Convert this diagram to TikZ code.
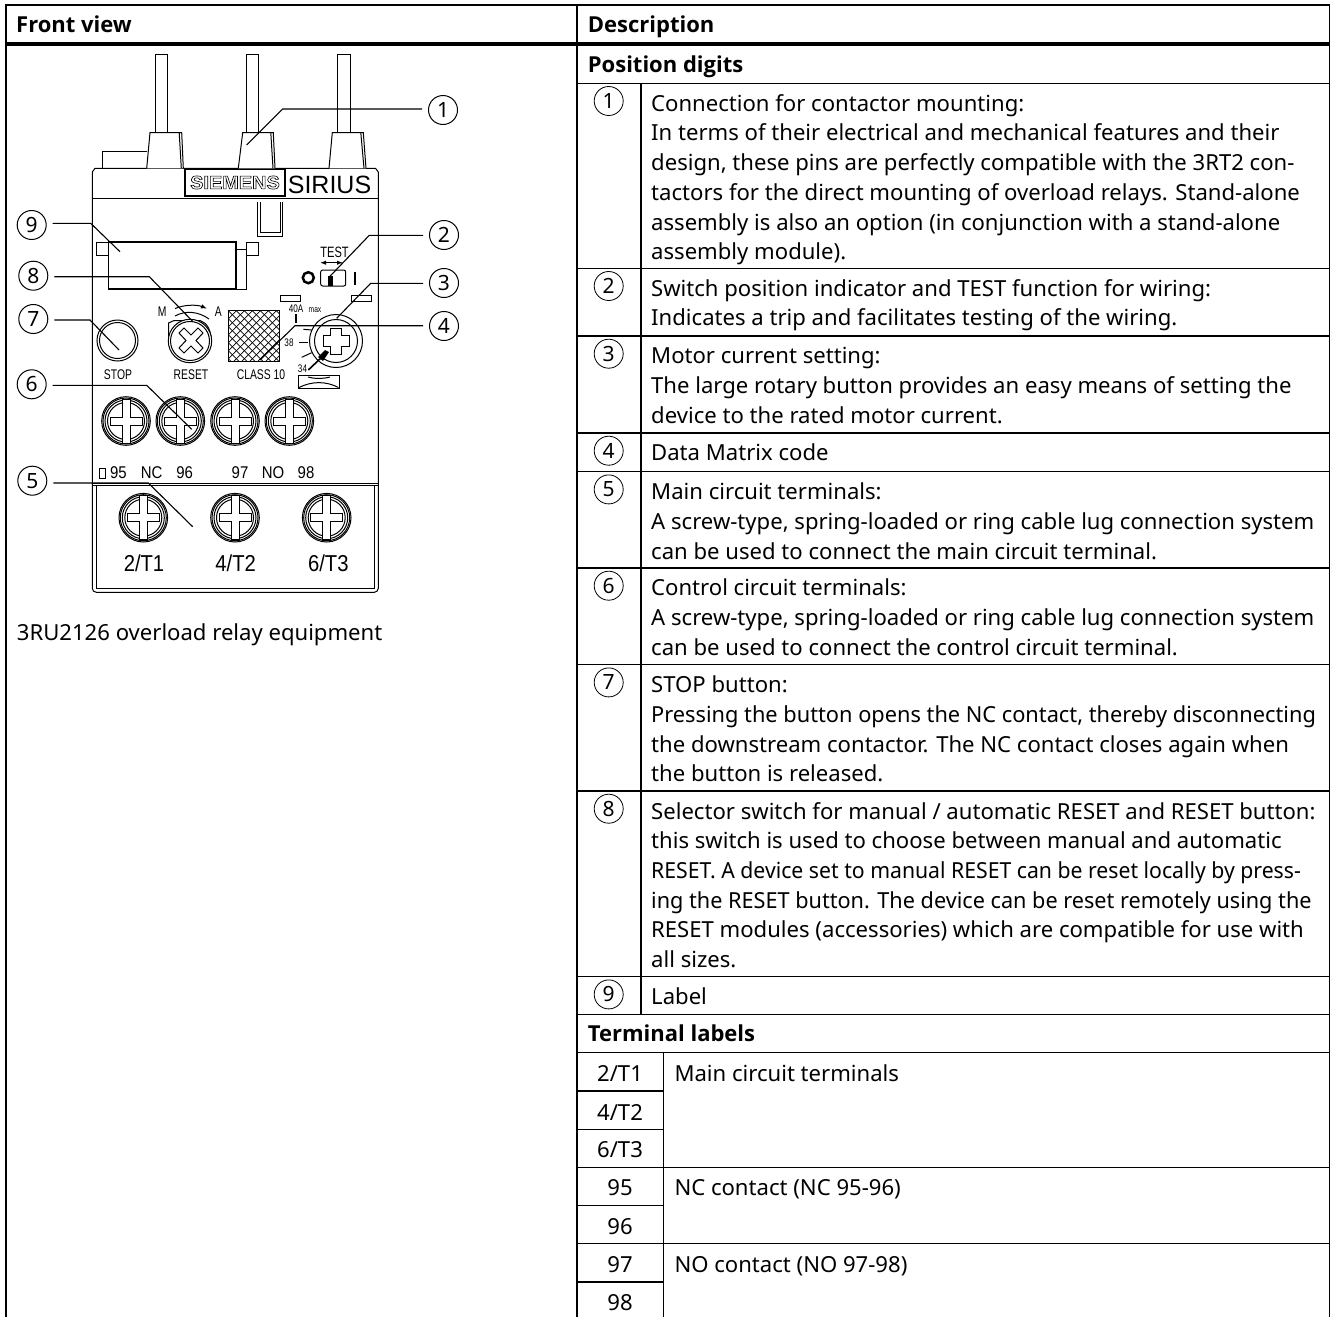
\documentclass[tikz,border=0pt]{standalone}
\usepackage{fontspec}
\setmainfont{Noto Sans}
\newfontfamily\headfont{Open Sans}
\newfontfamily\platefont[FakeStretch=0.74]{Liberation Sans}
\newfontfamily\platewide[FakeStretch=0.88]{Liberation Sans}
\newfontfamily\brandfont{Liberation Sans}
\usetikzlibrary{arrows.meta}
\newcommand{\outlined}[1]{\special{pdf:code 1 Tr 0.6 w}#1\special{pdf:code 0 Tr}}

\begin{document}
\begin{tikzpicture}[x=1pt,y=-1pt,
	rule/.style={line width=1.3pt},
	plate/.style={line width=1pt},
	leader/.style={line width=1.1pt,shorten <=6pt},
	desc/.style={anchor=north west,inner sep=0pt,align=left,font=\fontsize{22.1}{29.7}\selectfont},
	head/.style={anchor=base west,inner sep=0pt,font=\fontsize{22}{29.7}\selectfont\headfont\bfseries},
	cell/.style={anchor=base,inner sep=0pt,font=\fontsize{22.1}{29.7}\selectfont},
	callout/.style={circle,draw,line width=1pt,minimum size=29pt,inner sep=0pt,font=\fontsize{21}{21}\selectfont},
	plabel/.style={anchor=base,inner sep=0pt,font=\fontsize{14}{14}\selectfont\platefont},
	pwide/.style={anchor=base,inner sep=0pt,font=\fontsize{17}{17}\selectfont\platewide},
	pterm/.style={anchor=base,inner sep=0pt,font=\fontsize{23}{23}\selectfont\platewide},
	psmall/.style={anchor=base,inner sep=0pt,font=\fontsize{11}{11}\selectfont\platefont},
	pics/screw/.style={code={
		\draw[plate] (0,0) circle[radius=24.3];
		\draw[plate] (0,0) circle[radius=23];
		\draw[plate] (0,0) circle[radius=21];
		\draw[plate] (0,0) circle[radius=18.5];
		\draw[plate,fill=white] (-4,-22) -- (4,-22) -- (4,-4) -- (16,-4) -- (16,4) -- (4,4) -- (4,22) -- (-4,22) -- (-4,4) -- (-16,4) -- (-16,-4) -- (-4,-4) -- cycle;
	}}]
	\useasboundingbox (0,0) rectangle (1330,1317);

	% table frame
	\draw[rule] (6,1317) -- (6,5) -- (1329.5,5) -- (1329.5,1317);
	\draw[rule] (577,5) -- (577,1317);
	\draw[line width=4pt] (6,44) -- (1329.5,44);
	\foreach \y in {83.3,268.3,336,433,471.7,568,664.7,791,976.7,1014.7,1052.7,1167.3,1243.7}
		\draw[rule] (577,\y) -- (1329.5,\y);
	\foreach \y in {1091,1129.3,1205.3,1282}
		\draw[rule] (577,\y) -- (663.7,\y);
	\draw[rule] (641,83.3) -- (641,1014.7);
	\draw[rule] (663.7,1052.7) -- (663.7,1317);

	% headings
	\node at (16,32.3) [head] (frontview) {Front view};
	\node at (587.7,32.3) [head] (description) {Description};
	\node at (587.7,72.7) [head] (positiondigits) {Position digits};
	\node at (587.7,1041.7) [head] (terminallabels) {Terminal labels};
	\node at (16.7,640) [cell,anchor=base west] (caption) {3RU2126 overload relay equipment};

	% position digits
	\foreach \n/\y in {1/83.3,2/268.3,3/336,4/433,5/471.7,6/568,7/664.7,8/791,9/976.7}
		\node at (608.7,\y+17.7) [callout,line width=.8pt] (d\n) {\n};

	\node at (651,90.3) [desc] (t1) {\strut Connection for contactor mounting:\\In terms of their electrical and mechanical features and their\\design, these pins are perfectly compatible with the 3RT2 con-\\tactors for the direct mounting of overload relays. Stand-alone\\assembly is also an option (in conjunction with a stand-alone\\assembly module).};
	\node at (651,275.3) [desc] (t2) {\strut Switch position indicator and TEST function for wiring:\\Indicates a trip and facilitates testing of the wiring.};
	\node at (651,343) [desc] (t3) {\strut Motor current setting:\\The large rotary button provides an easy means of setting the\\device to the rated motor current.};
	\node at (651,440) [desc] (t4) {\strut Data Matrix code};
	\node at (651,478.7) [desc] (t5) {\strut Main circuit terminals:\\A screw-type, spring-loaded or ring cable lug connection system\\can be used to connect the main circuit terminal.};
	\node at (651,575) [desc] (t6) {\strut Control circuit terminals:\\A screw-type, spring-loaded or ring cable lug connection system\\can be used to connect the control circuit terminal.};
	\node at (651,671.7) [desc] (t7) {\strut STOP button:\\\scalebox{.985}[1]{Pressing the button opens the NC contact, thereby disconnecting}\\the downstream contactor. The NC contact closes again when\\the button is released.};
	\node at (651,798) [desc] (t8) {\strut Selector switch for manual / automatic RESET and RESET button:\\this switch is used to choose between manual and automatic\\\scalebox{.96}[1]{RESET. A device set to manual RESET can be reset locally by press-}\\\scalebox{.98}[1]{ing the RESET button. The device can be reset remotely using the}\\RESET modules (accessories) which are compatible for use with\\all sizes.};
	\node at (651,983.7) [desc] (t9) {\strut Label};

	% terminal labels
	\node at (620,1081.7) [cell] (l1) {2/T1};
	\node at (620,1120) [cell] (l2) {4/T2};
	\node at (620,1157.3) [cell] (l3) {6/T3};
	\node at (620,1195.7) [cell] (l4) {95};
	\node at (620,1234) [cell] (l5) {96};
	\node at (620,1272.7) [cell] (l6) {97};
	\node at (620,1310) [cell] (l7) {98};
	\node at (674.3,1081.7) [cell,anchor=base west] (m1) {Main circuit terminals};
	\node at (674.3,1195.7) [cell,anchor=base west] (m2) {NC contact (NC 95-96)};
	\node at (674.3,1272.7) [cell,anchor=base west] (m3) {NO contact (NO 97-98)};

	% relay body
	\draw[plate,rounded corners=4pt] (92.3,172) -- (92.3,592.3) -- (378.3,592.3) -- (378.3,172);
	\draw[plate] (92.3,172) -- (95,168.3) -- (375.5,168.3) -- (378.3,172);
	\draw[plate] (92.3,198.3) -- (378.3,198.3);
	\draw[plate] (92.3,483.3) -- (378.3,483.3);
	\draw[plate] (92.3,485.6) -- (378.3,485.6);
	\draw[plate] (96.7,485.6) -- (96.7,588.3) -- (374,588.3) -- (374,485.6);

	% pins
	\foreach \a/\b/\c/\d/\e/\f in {155.7/167.3/150/181.7/146.7/183.3,246.7/258.7/242.7/273.3/238.3/275,337.3/350/332.3/363.3/329/366} {
		\draw[plate] (\a,54) rectangle (\b,132.7);
		\draw[plate,fill=white] (\e,168.3) -- (\c,132.7) -- (\d,132.7) -- (\f,168.3);
		\draw[plate] (\d-2.5,132.7) -- (\f-2,168.3);
	}
	\draw[plate] (147,151.7) -- (102.3,151.7) -- (102.3,168.3);

	% name plates
	\node at (235,182.5) [draw,line width=1.5pt,fill=white,minimum width=100pt,minimum height=26.5pt,inner sep=0pt,font=\fontsize{18.6}{18.6}\selectfont\brandfont\bfseries] (siemens) {\scalebox{1.07}[1]{\outlined{SIEMENS}}};
	\node at (329.5,193.3) [anchor=base,inner sep=0pt,font=\fontsize{25}{25}\selectfont\brandfont] (sirius) {SIRIUS};

	% slot and label holder
	\draw[plate] (257.3,202.3) -- (257.3,236.7) -- (282.7,236.7) -- (282.7,202.3);
	\draw[plate] (260,202.3) -- (260,232.7) -- (280,232.7) -- (280,202.3);
	\draw[line width=1.6pt] (108.3,288.3) -- (108.3,241.7) -- (236,241.7) -- (236,288.3) -- cycle;
	\draw[plate] (236,249.3) -- (246,249.3) -- (246,289.5) -- (108.3,289.5);
	\draw[plate] (96,242.3) rectangle (108.3,255);
	\draw[plate] (246,242.3) rectangle (258.3,255);

	% test switch
	\node at (334.5,257.3) [plabel,font=\fontsize{15}{15}\selectfont\platefont] (test) {TEST};
	\coordinate (testl) at (320,262.7);
	\coordinate (testr) at (343,262.7);
	\draw[line width=1.3pt,{Latex[length=6pt]}-{Latex[length=6pt]}] (testl) -- (testr);
	\node at (308.3,277.7) [circle,draw,line width=2.5pt,minimum size=11pt,inner sep=0pt] (swo) {};
	\draw[plate,rounded corners=2pt] (320.7,270) rectangle (345.7,286);
	\fill (328.3,276) rectangle (333.3,286);
	\draw[line width=2.5pt] (355,271.7) -- (355,285);

	% dial marks
	\draw[plate] (280.7,295) rectangle (300,301.7);
	\draw[plate] (351.7,295) rectangle (371,301.7);
	\node at (296,312.3) [psmall] (amps) {40A};
	\node at (315,312.3) [psmall,font=\fontsize{9}{9}\selectfont\platefont] (ampsmax) {max};
	\draw[line width=1.3pt] (296,314) -- (296,323);
	\node at (289,346.7) [psmall] (s38) {38};
	\node at (302.5,372.7) [psmall] (s34) {34};
	\draw[plate] (299.3,342.7) -- (308.3,342.7);
	\draw[plate] (301.7,357.3) -- (311.7,352.7);
	\draw[plate] (303.3,329.3) -- (311.7,330);

	% current dial
	\draw[plate] (336,341) circle[radius=26.5];
	\draw[plate] (336,341) circle[radius=21.5];
	\draw[plate] (330.5,328) -- (341.5,328) -- (341.5,335.5) -- (349,335.5) -- (349,346.5) -- (341.5,346.5) -- (341.5,354) -- (330.5,354) -- (330.5,346.5) -- (323,346.5) -- (323,335.5) -- (330.5,335.5) -- cycle;
	\draw[line width=1.6pt] (308.3,370) -- (322,357);
	\fill (318,357) -- (325,350) -- (329,352) -- (323,361) -- cycle;
	\draw[plate] (298.3,375) rectangle (339.3,388.3);
	\draw[plate] (299,387.5) .. controls (312,381) and (326,381) .. (338.5,387.5);
	\draw[plate] (308,377) .. controls (315,379) and (322,379) .. (330,377);

	% data matrix
	\begin{scope}
		\clip (228.3,310.7) rectangle (279.3,361.7);
		\foreach \s in {-8,0,...,104} {
			\draw[line width=.7pt] (228.3+\s,310.7) -- (228.3+\s-60,370.7);
			\draw[line width=.7pt] (228.3+\s-56,310.7) -- (228.3+\s+4,370.7);
		}
	\end{scope}
	\draw[plate] (228.3,310.7) rectangle (279.3,361.7);

	% stop and reset buttons
	\node at (117.5,340.5) [circle,draw,line width=1pt,minimum size=41pt,inner sep=0pt] (stopbtn) {};
	\node at (117.5,340.5) [circle,draw,line width=1pt,minimum size=36pt,inner sep=0pt] (stopin) {};
	\node at (118,379) [plabel] (stop) {STOP};
	\draw[plate] (168.5,345) -- (168.5,323) -- (174,320.5) -- (200,320.5) .. controls (207,323) and (211.5,329) .. (211.5,345);
	\draw[plate,fill=white] (190,341) circle[radius=21.7];
	\draw[plate] (190,341) circle[radius=19.5];
	\draw[plate] (184,328) -- (191,335) -- (198,328) -- (203,333) -- (196,340.5) -- (203,348) -- (198,353) -- (191,346) -- (184,353) -- (179,348) -- (186,340.5) -- (179,333) -- cycle;
	\node at (191,379) [plabel] (reset) {RESET};
	\node at (162.3,316.7) [plabel] (manual) {M};
	\node at (218.3,316.7) [plabel] (auto) {A};
	\coordinate (arcl) at (175,308.6);
	\coordinate (arcr) at (207,308.6);
	\draw[plate,-{Latex[length=6pt]}] (arcl) .. controls (184,304.5) and (197,304.5) .. (arcr);
	\draw[plate] (175,316) .. controls (185,310.5) and (198,311) .. (209,319);
	\node at (261,379) [plabel] (class) {CLASS 10};

	% terminals
	\foreach \x in {126,180.3,235,289.3}
		\pic at (\x,421) {screw};
	\foreach \x in {143.3,235,326.7}
		\pic at (\x,517.7) {screw};
	\draw[plate] (99.3,468.3) rectangle (105.7,478.3);
	\node at (118.5,478.3) [pwide] (n95) {95};
	\node at (151.7,478.3) [pwide] (nc) {NC};
	\node at (184.7,478.3) [pwide] (n96) {96};
	\node at (240,478.3) [pwide] (n97) {97};
	\node at (273,478.3) [pwide] (no) {NO};
	\node at (306,478.3) [pwide] (n98) {98};
	\node at (144,571.7) [pterm] (t1lab) {2/T1};
	\node at (235.7,571.7) [pterm] (t2lab) {4/T2};
	\node at (328.3,571.7) [pterm] (t3lab) {6/T3};

	% callouts
	\foreach \n/\x/\y in {1/443/110,2/444/235,3/444/283,4/444/326,5/32.3/480.7,6/31.7/384.3,7/33.3/319,8/33.3/275.7,9/31.7/225}
		\node at (\x,\y) [callout] (c\n) {\n};

	\coordinate (b1) at (282.7,109);   \coordinate (e1) at (246.7,145);
	\coordinate (b2) at (369.3,235.3); \coordinate (e2) at (328.3,278);
	\coordinate (b3) at (370.7,283.3); \coordinate (e3) at (336.7,318.3);
	\coordinate (b4) at (295,325.7);   \coordinate (e4) at (260,360);
	\coordinate (b5) at (148.3,483);   \coordinate (e5) at (192.7,526.7);
	\coordinate (b6) at (146.7,385.3); \coordinate (e6) at (191.7,429.3);
	\coordinate (b7) at (90,320);      \coordinate (e7) at (119,350);
	\coordinate (b8) at (149.3,276.7); \coordinate (e8) at (193,321.7);
	\coordinate (b9) at (90.7,223.3);  \coordinate (e9) at (120,251.7);

	\foreach \n in {1,2,3,4}
		\draw[leader] (c\n.west |- b\n) -- (b\n) -- (e\n);
	\foreach \n in {5,6,7,8,9}
		\draw[leader] (c\n.east |- b\n) -- (b\n) -- (e\n);

\end{tikzpicture}
\end{document}
